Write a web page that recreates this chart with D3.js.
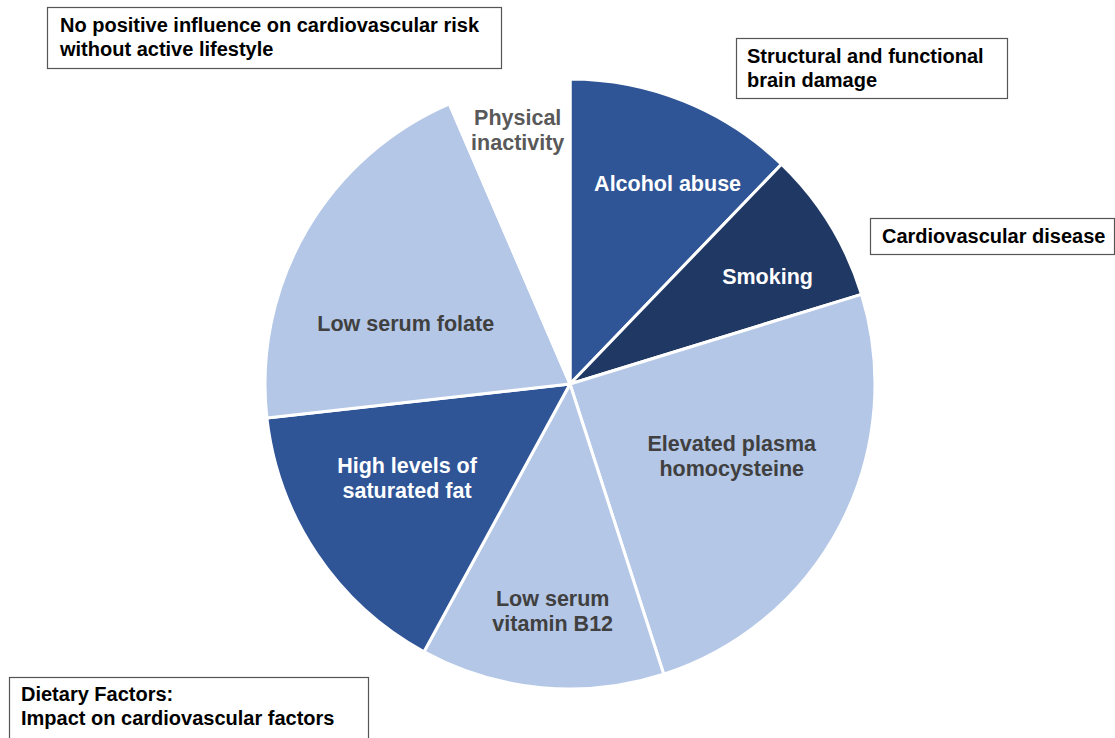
<!DOCTYPE html>
<html><head><meta charset="utf-8">
<script src="https://cdn.jsdelivr.net/npm/d3@7"></script>
<style>
html,body{margin:0;padding:0;background:#fff;}
svg{display:block;font-family:"Liberation Sans",Arial,sans-serif;font-weight:bold;}
</style></head>
<body>
<svg id="chart" width="1115" height="738"></svg>
<script>
// ---- data ----
const categories = ["Alcohol abuse","Smoking","Elevated plasma homocysteine","Low serum vitamin B12","High levels of saturated fat","Low serum folate","Physical inactivity"];
const labelLines = [["Alcohol abuse"],["Smoking"],["Elevated plasma","homocysteine"],["Low serum","vitamin B12"],["High levels of","saturated fat"],["Low serum folate"],["Physical","inactivity"]];
const values = [43.9, 29.0, 89.2, 46.5, 55.0, 73.1, 23.3]; // share of circle (degrees)
const groups = ["lifestyle","lifestyle","diet","diet","diet","diet","none"];
const boxTexts = [
  ["No positive influence on cardiovascular risk","without active lifestyle"],
  ["Structural and functional","brain damage"],
  ["Cardiovascular disease"],
  ["Dietary Factors:","Impact on cardiovascular factors"]
];

// ---- styling ----
const fills = ["#2F5597","#203864","#B4C7E7","#B4C7E7","#2F5597","#B4C7E7","#FFFFFF"];
const textFills = ["#FFFFFF","#FFFFFF","#404040","#404040","#FFFFFF","#404040","#595959"];
const labelAngleShift = [4, 3, -3.5, -1, 4, -10, 0]; // degrees
const labelRadius = [223, 225, 177, 228, 188, 175, 259];
const boxes = [
  {x:47,y:7,w:454,h:61,tx:60,ty:32},
  {x:736,y:38,w:271,h:60,tx:747,ty:63},
  {x:870,y:218,w:244,h:36,tx:882,ty:243},
  {x:9,y:677,w:359,h:80,tx:21,ty:701}
];

const svg = d3.select("#chart");
const cx = 570, cy = 384, R = 305;
const g = svg.append("g").attr("transform",`translate(${cx},${cy})`);

const pie = d3.pie().sort(null).value(d=>d)(values);
const arc = d3.arc().innerRadius(0).outerRadius(R);

g.selectAll("path.slice").data(pie).join("path")
  .attr("class","slice")
  .attr("d",arc)
  .attr("fill",(d,i)=>fills[i])
  .attr("stroke","#fff")
  .attr("stroke-width",3)
  .attr("stroke-linejoin","round");

const lbl = g.selectAll("text.lbl").data(pie).join("text")
  .attr("class","lbl")
  .attr("text-anchor","middle")
  .attr("font-size","21.5px")
  .attr("fill",(d,i)=>textFills[i])
  .attr("transform",(d,i)=>{
    const a = (d.startAngle+d.endAngle)/2 + labelAngleShift[i]*Math.PI/180;
    const r = labelRadius[i];
    return `translate(${r*Math.sin(a)},${-r*Math.cos(a)})`;
  });
lbl.each(function(d,i){
  const lines = labelLines[i];
  const n = lines.length, lh = 25;
  d3.select(this).selectAll("tspan").data(lines).join("tspan")
    .attr("x",0)
    .attr("y",(l,j)=>(j-(n-1)/2)*lh + 7.5)
    .text(l=>l);
});

const bx = svg.selectAll("g.box").data(boxes).join("g").attr("class","box");
bx.append("rect")
  .attr("x",d=>d.x+0.5).attr("y",d=>d.y+0.5)
  .attr("width",d=>d.w).attr("height",d=>d.h)
  .attr("fill","#fff").attr("stroke","#555").attr("stroke-width",1.2);
bx.append("text")
  .attr("font-size","20px").attr("fill","#000")
  .each(function(d,i){
    d3.select(this).selectAll("tspan").data(boxTexts[i]).join("tspan")
      .attr("x",d.tx).attr("y",(l,j)=>d.ty+j*24).text(l=>l);
  });
</script>
</body></html>
